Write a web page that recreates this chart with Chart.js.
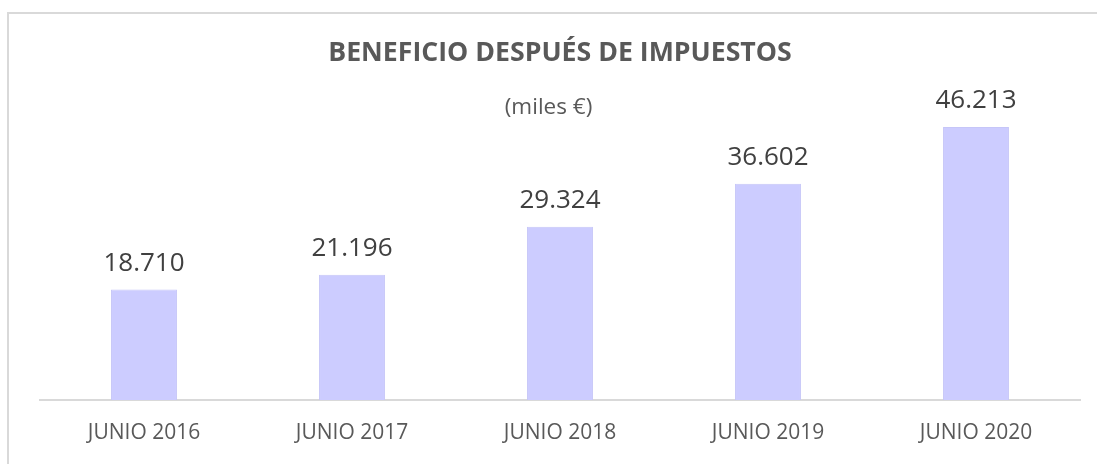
<!DOCTYPE html>
<html>
<head>
<meta charset="utf-8">
<script src="https://cdn.jsdelivr.net/npm/chart.js@4"></script>
<style>
  html, body { margin: 0; padding: 0; background: #fff; }
  #frame { position: absolute; left: 7px; top: 12px; width: 1200px; height: 600px;
           border-left: 2px solid #d9d9d9; border-top: 2px solid #d9d9d9; }
  #wrap { position: absolute; left: 0; top: 0; width: 1097px; height: 464px; }
</style>
</head>
<body>
<div id="frame"></div>
<div id="wrap"><canvas id="chart" width="1097" height="464"></canvas></div>
<script>
// Chart data (miles €)
const categories = ['JUNIO 2016', 'JUNIO 2017', 'JUNIO 2018', 'JUNIO 2019', 'JUNIO 2020'];
const profit = [18710, 21196, 29324, 36602, 46213];
const yMax = 47000;
const subtitleText = '(miles €)';

// 18710 -> "18.710"
function fmt(v) {
    return String(v).replace(/\B(?=(\d{3})+(?!\d))/g, '.');
}

// Values above the bars, plus the subtitle centred on the whole canvas
const valueLabels = {
    id: 'valueLabels',
    afterDatasetsDraw(chart) {
        const ctx = chart.ctx;
        const meta = chart.getDatasetMeta(0);
        ctx.save();
        ctx.font = '26px "Open Sans"';
        ctx.fillStyle = '#404040';
        ctx.textAlign = 'center';
        ctx.textBaseline = 'alphabetic';
        meta.data.forEach((bar, i) => {
            ctx.fillText(fmt(chart.data.datasets[0].data[i]), bar.x, bar.y - 19);
        });
        ctx.font = '22.5px "Open Sans"';
        ctx.fillStyle = '#595959';
        ctx.textBaseline = 'middle';
        ctx.fillText(subtitleText, chart.width / 2, chart.chartArea.top - 15);
        ctx.restore();
    }
};

const ctx = document.getElementById('chart').getContext('2d');
new Chart(ctx, {
    type: 'bar',
    data: {
        labels: categories,
        datasets: [{
            data: profit,
            backgroundColor: '#ccccff',
            borderColor: '#c6c6f8',
            borderWidth: 1,
            categoryPercentage: 1,
            barPercentage: 0.317
        }]
    },
    options: {
        responsive: false,
        animation: false,
        layout: { padding: { left: 40, right: 17, top: 0, bottom: 0 } },
        scales: {
            x: {
                grid: { display: false },
                border: { display: true, color: '#d9d9d9', width: 2 },
                ticks: {
                    color: '#595959',
                    font: { family: 'Open Sans', size: 21 },
                    padding: 12,
                    maxRotation: 0
                },
                afterFit(scale) { scale.height = 64; }
            },
            y: {
                display: false,
                min: 0,
                max: yMax
            }
        },
        plugins: {
            legend: { display: false },
            tooltip: { enabled: false },
            title: {
                display: true,
                text: 'BENEFICIO DESPUÉS DE IMPUESTOS',
                color: '#595959',
                font: { family: 'Open Sans', size: 26.7, weight: 'bold', lineHeight: 1.2 },
                padding: { top: 37, bottom: 53.4 }
            }
        }
    },
    plugins: [valueLabels]
});
</script>
</body>
</html>
